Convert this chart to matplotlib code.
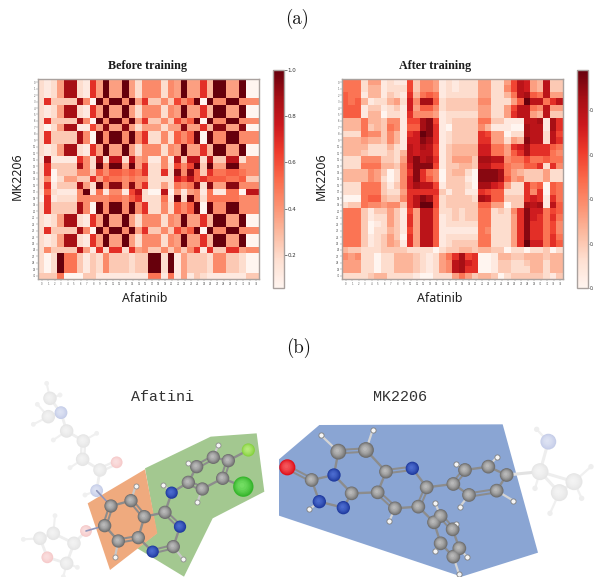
import numpy as np
import matplotlib
matplotlib.use("Agg")
import matplotlib.pyplot as plt
from matplotlib.colors import to_rgb
from matplotlib.patches import Polygon

# Heatmap cells: one hex digit per cell, 0 = bottom of colour scale, f = top.
A = "2125dd21a5" "f55f526662" "65f55a4ff5" "5f00"
A7 = "2025dd1195" "e55e525552" "55e55a4ee5" "5e00"
B = "2a3333d60f" "6ff6f5a336" "3968f0f66f" "f666"
C = "2a3333d60f" "6ff6f6a226" "2868f0f66f" "f666"
D = "1d1111a62d" "2cc2c56116" "1c3cc2c33c" "c266"
E = "2a3333d62f" "6ff5f5a226" "2969f3f55f" "f666"
F = "2a03336638" "688787a22a" "2e6e83a778" "8766"
G = "26025533a5" "8776766222" "2b9c8a8887" "7833"
H = "2a1333d52f" "6ee6e6a225" "2767e2e55e" "e666"
I = "1821116f17" "16619c200c" "0515617117" "70cc"
J = "0a12226666" "67768a2227" "1f2f627777" "7666"
K = "263333c51a" "2aa2a56336" "3636a1a33a" "a566"
L = "202f773132" "6333233ff2" "f153332663" "3200"
M = "3337000331" "1111111771" "7151321111" "1133"
before_rows = [A, A, A, B, A, A, B, A7, C, C, A, A, D, E, F, G, H, I, J, C, C,
               A, A, B, A, A, K, L, L, L, M]

after_rows = [
    "777 2 55 1 21 1 9 3 66 5 1 2 1222 55 22 5 9 c b 54 c 33",
    "777 2 44 1 22 2 9 3 66 5 1 2 1222 55 22 6 9 c b 54 c 33",
    "877 1 44 1 32 1 a 4 78 7 1 2 2222 55 22 4 7 c d 87 c 55",
    "878 4 12 2 45 2 b 6 dd 8 2 3 3333 66 22 2 5 8 f cc 7 ac",
    "888 1 33 1 23 1 b 5 88 6 2 3 3333 55 22 5 9 c c 76 c 55",
    "888 1 44 0 22 1 a 6 66 5 1 2 2222 55 22 5 a c c 54 c 33",
    "444 7 44 3 66 1 9 9 de 9 1 2 3333 77 33 1 1 1 c cd 1 da",
    "444 7 34 3 76 1 8 8 de a 1 0 3333 64 11 1 0 0 d cc 1 da",
    "222 7 66 3 64 1 a b fe a 1 2 3333 a9 55 0 2 2 d cc 2 c9",
    "444 5 44 3 64 1 b b ed a 1 2 3333 aa 55 2 5 4 e cc 2 ca",
    "444 4 22 2 42 1 c b dc 9 1 3 4444 bb 77 5 a b d aa a 87",
    "444 3 22 2 32 4 c b cc 9 1 3 4444 bb 77 5 8 a d aa a 76",
    "222 6 66 3 32 5 c e cd a 1 3 5553 dd cc 6 7 7 9 77 8 77",
    "222 7 77 4 43 6 b e ee 9 1 3 3443 cc aa 7 6 6 8 8a 2 a6",
    "444 4 65 3 02 6 a e a7 6 0 3 4420 ee ed 7 5 4 3 33 5 22",
    "444 4 65 2 02 6 b e a8 6 0 3 3310 ee ed 8 5 6 3 33 5 22",
    "222 7 77 3 13 6 b d cc 9 1 3 3320 dd ba 5 2 2 a 78 0 87",
    "222 7 77 3 22 5 a a aa a 3 1 3311 a9 88 2 2 2 a 6a 0 87",
    "000 7 88 4 33 6 a c ed 9 2 3 3332 dc 88 3 3 3 a ba 1 a7",
    "233 7 66 5 66 3 a c ff 9 2 3 3333 88 55 0 3 3 d cd 1 c8",
    "777 3 13 3 53 1 9 5 cc 8 2 2 3233 77 23 2 6 a e bb 7 98",
    "777 3 12 2 53 1 a 5 cc 8 1 2 3233 77 22 2 5 a e ba 7 a7",
    "777 3 01 2 53 1 a 5 cc 8 1 2 2222 77 22 2 5 a e aa 7 96",
    "777 3 02 2 43 1 9 5 cc 8 1 1 1111 76 22 2 5 a e aa 7 96",
    "777 3 12 3 53 0 a 5 cc 8 1 2 2222 77 22 2 5 a e aa 7 a7",
    "777 3 12 3 54 1 a 5 cc 8 1 2 3333 77 22 2 5 a f bb 7 a8",
    "433 2 22 3 33 3 2 2 22 0 2 3 3443 44 33 0 2 2 0 22 3 02",
    "656 2 20 2 24 4 4 3 21 2 5 7 ad9a 00 14 4 3 3 4 44 3 44",
    "555 2 20 2 24 4 4 3 21 2 5 6 cdba 00 13 3 2 2 3 44 2 44",
    "555 2 20 2 24 4 4 3 21 2 5 6 cdaa 00 13 3 2 2 2 44 2 44",
    "222 2 34 4 22 2 2 1 00 2 2 2 5753 44 30 2 3 3 3 33 2 13",
]

x_labels = [str(i) for i in range(34)]
y_labels = [str(i) for i in range(31)]
before_range = (0.056, 1.0)
after_range = (0.0, 0.98)
before_ticks = [0.2, 0.4, 0.6, 0.8, 1.0]
before_tick_labels = ["0.2", "0.4", "0.6", "0.8", "1.0"]
after_ticks = [0.0, 0.2, 0.4, 0.6, 0.8]
after_tick_labels = ["0.", "0.", "0.", "0.", "0."]  # as much as the reference shows at its edge


def decode(rows, rng):
    grid = np.array([[int(c, 16) for c in r.replace(" ", "")] for r in rows], float)
    return rng[0] + grid / 15.0 * (rng[1] - rng[0])


before = decode(before_rows, before_range)
after = decode(after_rows, after_range)

W, Hg = 595, 577
fig = plt.figure(figsize=(W / 100, Hg / 100), dpi=100, facecolor="white")


def axes_px(x0, y0, x1, y1, **kw):
    return fig.add_axes([x0 / W, 1 - y1 / Hg, (x1 - x0) / W, (y1 - y0) / Hg], **kw)


# ---- molecule layer (full-figure pixel axes) ----
mol = axes_px(0, 0, W, Hg)
mol.set_xlim(0, W)
mol.set_ylim(Hg, 0)
mol.axis("off")

GREY = "#6f6f6f"
BLUE = "#1f3a9e"
GHOST = "#e6e6e6"
GHOST_N = "#c6cee9"
GHOST_O = "#f6caca"


def mapper(ox):
    return lambda p: (ox + p[0] / 3.0, 370 + p[1] / 3.0)


def bonds(to_px, atoms, pairs, color, lw, double=(), gap=1.7, z=3):
    for a, b in pairs:
        p, q = np.array(to_px(atoms[a])), np.array(to_px(atoms[b]))
        if (a, b) in double:
            d = q - p
            n = np.array([-d[1], d[0]]) / (np.hypot(*d) + 1e-9) * gap
            for s in (-1, 1):
                mol.plot([p[0] + s * n[0], q[0] + s * n[0]], [p[1] + s * n[1], q[1] + s * n[1]],
                         color=color, lw=lw * 0.85, solid_capstyle="round", zorder=z)
        else:
            mol.plot([p[0], q[0]], [p[1], q[1]], color=color, lw=lw, solid_capstyle="round", zorder=z)


def balls(to_px, pts, color, size, hi=None, edge="none", z=4):
    xy = np.array([to_px(p) for p in pts])
    mol.scatter(xy[:, 0], xy[:, 1], s=size, color=color, edgecolor=edge, linewidth=0.6, zorder=z)
    if hi:
        c0, c1 = np.array(to_rgb(color)), np.array(to_rgb(hi))
        offs = np.sqrt(size) * 0.09
        for i, f in enumerate(np.linspace(0.2, 1.0, 6)):
            mol.scatter(xy[:, 0] - offs * f, xy[:, 1] - offs * f, s=size * (1 - f) ** 1.0 * 0.9 + size * 0.06,
                        color=c0 * (1 - f) + c1 * f, edgecolor="none", zorder=z + 0.01 * (i + 1))


# Afatinib
afa = mapper(0)
afa_green = [(435, 295), (632, 200), (770, 190), (793, 365), (638, 445), (552, 620), (412, 535), (470, 490)]
afa_orange = [(435, 298), (472, 490), (330, 600), (263, 400)]
mol.add_patch(Polygon([afa(p) for p in afa_green], fc="#a3c890", ec="none", zorder=1))
mol.add_patch(Polygon([afa(p) for p in afa_orange], fc="#efaa7e", ec="none", zorder=2))

afa_atoms = [(333, 408), (393, 392), (433, 440), (415, 503), (355, 513), (314, 467), (495, 427),
             (540, 470), (520, 530), (458, 545), (515, 368), (565, 337), (590, 290), (640, 262),
             (685, 272), (668, 325), (607, 357), (730, 350), (745, 240)]
afa_double = [(0, 5), (1, 2), (3, 4), (6, 7), (8, 9), (12, 13), (14, 15), (11, 16)]
afa_single = [(0, 1), (2, 3), (4, 5), (2, 6), (3, 9), (7, 8), (6, 10), (10, 11), (11, 12), (13, 14),
              (15, 16), (15, 17), (14, 18)]
bonds(afa, afa_atoms, afa_double + afa_single, "#8c8c8c", 1.7, double=afa_double)
balls(afa, [afa_atoms[i] for i in (0, 1, 2, 3, 4, 5, 6, 8, 11, 12, 13, 14, 15, 16)], GREY, 92, hi="#b8b8b8")
balls(afa, [afa_atoms[i] for i in (7, 9, 10)], BLUE, 78, hi="#4a6ace")
balls(afa, [afa_atoms[17]], "#36b52c", 215, hi="#72dd62")
balls(afa, [afa_atoms[18]], "#86d23e", 90, hi="#b4ea7a")
afa_h = [((407, 347), 1), ((345, 560), 4), ((550, 568), 8), ((490, 345), 10), ((592, 397), 16),
         ((654, 226), 13), ((565, 278), 12)]
for h, parent in afa_h:
    bonds(afa, [h, afa_atoms[parent]], [(0, 1)], "#c8c8c8", 1.6)
balls(afa, [h for h, _ in afa_h], "#f5f5f5", 13, edge="#8e8e8e")

afa_ghost = [(150, 85), (145, 140), (183, 128), (200, 183), (250, 213), (248, 268), (300, 300), (350, 277),
             (290, 362), (258, 483), (222, 520), (160, 490), (120, 505), (142, 562), (200, 580)]
afa_ghost_pairs = [(0, 2), (1, 2), (2, 3), (3, 4), (4, 5), (5, 6), (6, 7), (6, 8), (9, 10), (10, 11),
                   (11, 12), (12, 13), (13, 14), (14, 10)]
bonds(afa, afa_ghost, afa_ghost_pairs, "#eeeeee", 2.0, double=[(4, 5), (6, 7)], z=0.8)
bonds(afa, [afa_atoms[0], afa_ghost[8], afa_atoms[5], afa_ghost[9]], [(0, 1), (2, 3)], "#8f96bb", 1.2)
balls(afa, [afa_ghost[i] for i in (0, 1, 3, 4, 5, 6, 10, 11, 12, 14)], GHOST, 95, hi="#f2f2f2", z=2.5)
balls(afa, [afa_ghost[2], afa_ghost[8]], GHOST_N, 85, hi="#dde2f3", z=2.5)
balls(afa, [afa_ghost[7], afa_ghost[9], afa_ghost[13]], GHOST_O, 72, hi="#fadede", z=2.5)
afa_ghost_h = [((140, 40), 0), ((180, 75), 0), ((112, 103), 1), ((100, 163), 1), ((160, 210), 3), ((290, 190), 4),
               ((210, 293), 5), ((255, 375), 8), ((165, 437), 11), ((70, 508), 12), ((232, 592), 14), ((190, 620), 14)]
for h, parent in afa_ghost_h:
    bonds(afa, [h, afa_ghost[parent]], [(0, 1)], "#f0f0f0", 1.5, z=0.8)
balls(afa, [h for h, _ in afa_ghost_h], "#f0f0f0", 12, z=2.5)

# MK2206
mk = mapper(270)
mk_blue = [(148, 165), (698, 163), (804, 548), (575, 620), (27, 437), (27, 268)]
mol.add_patch(Polygon([mk(p) for p in mk_blue], fc="#8aa5d3", ec="none", zorder=1))
mk_atoms = [(125, 330), (192, 315), (148, 395), (220, 413), (245, 370), (205, 245), (288, 240), (348, 305),
            (427, 295), (470, 352), (323, 367), (375, 415), (445, 410), (550, 342), (585, 300), (655, 290),
            (710, 315), (680, 362), (597, 375), (492, 457), (512, 438), (548, 478), (568, 535), (550, 560),
            (512, 520), (52, 292)]
mk_double = [(0, 25), (5, 6), (7, 8), (10, 11), (9, 12), (13, 14), (17, 18), (20, 21), (22, 23)]
mk_single = [(0, 1), (0, 2), (1, 4), (2, 3), (3, 4), (1, 5), (6, 7), (7, 10), (4, 10), (8, 9), (11, 12),
             (12, 19), (9, 13), (14, 15), (15, 16), (16, 17), (18, 13), (19, 20), (21, 22), (23, 24), (24, 19)]
bonds(mk, mk_atoms, mk_double + mk_single, "#8c8c8c", 1.7, double=mk_double)
balls(mk, [mk_atoms[i] for i in (0, 4, 7, 9, 10, 11, 12, 13, 14, 15, 16, 17, 18, 19, 20, 21, 22, 23, 24)],
      GREY, 98, hi="#b8b8b8")
balls(mk, [mk_atoms[i] for i in (5, 6)], GREY, 130, hi="#b8b8b8")
balls(mk, [mk_atoms[i] for i in (1, 2, 3, 8)], BLUE, 92, hi="#4a6ace")
balls(mk, [mk_atoms[25]], "#e0101a", 135, hi="#f4555a")
mk_h = [((152, 195), 5), ((308, 180), 6), ((118, 418), 2), ((358, 453), 11), ((495, 398), 20), ((570, 410), 18),
        ((730, 392), 17), ((558, 282), 14), ((680, 262), 15), ((558, 462), 21), ((495, 542), 24), ((592, 562), 22),
        ((567, 612), 23)]
for h, parent in mk_h:
    bonds(mk, [h, mk_atoms[parent]], [(0, 1)], "#d4d4d4", 1.6)
balls(mk, [h for h, _ in mk_h], "#f5f5f5", 14, edge="#7f7f7f")

mk_ghost = [(810, 305), (912, 335), (868, 368), (835, 215)]
mk_ghost_pairs = [(0, 1), (1, 2), (2, 0), (0, 3)]
bonds(mk, mk_ghost, mk_ghost_pairs, "#eeeeee", 2.2, z=0.8)
bonds(mk, [mk_atoms[16], mk_ghost[0]], [(0, 1)], "#e2e2e2", 2.2, z=1.5)
balls(mk, mk_ghost[:3], GHOST, 150, hi="#f3f3f3", z=2.5)
balls(mk, [mk_ghost[3]], GHOST_N, 130, hi="#dde2f3", z=2.5)
mk_ghost_h = [((800, 178), 3), ((963, 290), 1), ((935, 385), 1), ((795, 355), 0), ((840, 430), 2)]
for h, parent in mk_ghost_h:
    bonds(mk, [h, mk_ghost[parent]], [(0, 1)], "#f0f0f0", 1.6, z=0.8)
balls(mk, [h for h, _ in mk_ghost_h], "#eeeeee", 15, z=2.5)


# ---- heatmaps ----
FRAME = "#a9a19e"


def heat(data, rng, box, cbox, ticks, tick_labels, title, tx, tick_size, tick_len, tick_pad):
    ax = axes_px(*box)
    im = ax.imshow(data, cmap="Reds", vmin=rng[0], vmax=rng[1], aspect="auto", interpolation="nearest")
    ax.set_xticks(range(len(x_labels)), x_labels)
    ax.set_yticks(range(len(y_labels)), y_labels)
    ax.tick_params(axis="both", labelsize=1.8, length=1.2, width=0.3, pad=0.8,
                   color="#777777", labelcolor="#555555")
    for s in ax.spines.values():
        s.set_color(FRAME)
        s.set_linewidth(1.0)
    cax = axes_px(*cbox)
    cb = fig.colorbar(im, cax=cax)
    cb.set_ticks(ticks)
    cb.ax.set_yticklabels(tick_labels)
    cb.ax.tick_params(labelsize=tick_size, length=tick_len, width=0.5, pad=tick_pad,
                      color="#444444", labelcolor="#333333")
    cb.outline.set_edgecolor(FRAME)
    cb.outline.set_linewidth(1.0)
    fig.text(tx / W, 1 - 65.5 / Hg, title, ha="center", va="center", fontsize=8.7,
             family="Liberation Serif", weight="bold", color="#1c1c1c")
    return ax


heat(before, before_range, (38.3, 79, 259.3, 279), (272.7, 70, 284, 288.3),
     before_ticks, before_tick_labels, "Before training", 148, 4.0, 1.8, 0.8)
heat(after, after_range, (342.3, 79, 563.3, 279), (576.7, 70, 588.3, 288.3),
     after_ticks, after_tick_labels, "After training", 435.5, 3.3, 1.0, 0.3)

for x, y, s, rot in [(17, 176, "MK2206", 90), (321, 176, "MK2206", 90),
                     (145, 298, "Afatinib", 0), (440, 298, "Afatinib", 0)]:
    fig.text(x / W, 1 - y / Hg, s, rotation=rot, ha="center", va="center", fontsize=8.9,
             family="Noto Sans", weight="bold", color="#1f1f1f")

for x, y, s in [(297, 19, "(a)"), (299, 348, "(b)")]:
    fig.text(x / W, 1 - y / Hg, s, ha="center", va="center", fontsize=13.5, family="cmr10", color="#111111")

for x, y, s in [(162.5, 397, "Afatini"), (400, 397, "MK2206")]:
    fig.text(x / W, 1 - y / Hg, s, ha="center", va="center", fontsize=10.8,
             family="Liberation Mono", color="#333333")

fig.savefig("out.png", dpi=100, facecolor="white")
